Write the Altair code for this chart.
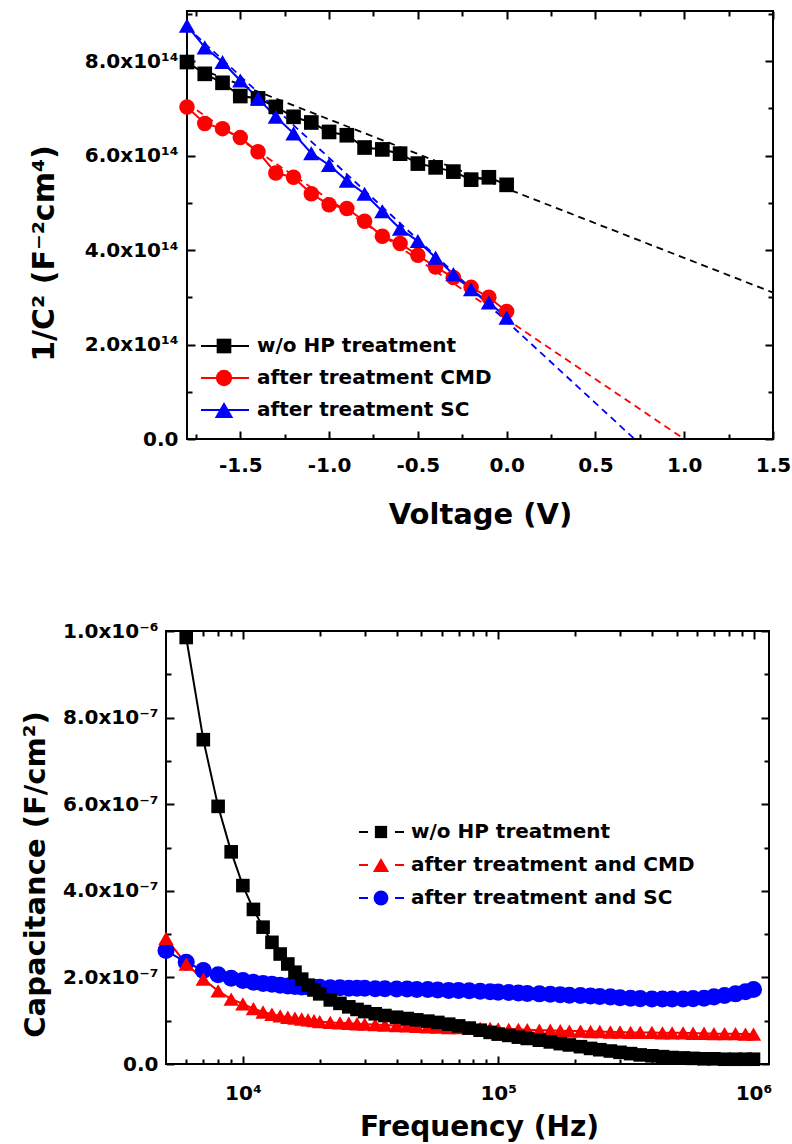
import altair as alt
import pandas as pd

FONT = "DejaVu Sans"

# ---------------- Top panel data (Mott-Schottky) ----------------
voltage = [-1.8, -1.7, -1.6, -1.5, -1.4, -1.3, -1.2, -1.1, -1.0, -0.9,
           -0.8, -0.7, -0.6, -0.5, -0.4, -0.3, -0.2, -0.1, 0.0]
inv_c2_wo = [7.98e14, 7.73e14, 7.54e14, 7.26e14, 7.21e14, 7.03e14, 6.82e14, 6.70e14, 6.50e14, 6.43e14,
             6.17e14, 6.13e14, 6.04e14, 5.83e14, 5.75e14, 5.66e14, 5.49e14, 5.54e14, 5.38e14]
inv_c2_cmd = [7.03e14, 6.68e14, 6.57e14, 6.38e14, 6.08e14, 5.63e14, 5.54e14, 5.19e14, 4.96e14, 4.88e14,
              4.61e14, 4.29e14, 4.14e14, 3.89e14, 3.64e14, 3.42e14, 3.21e14, 3.00e14, 2.70e14]
inv_c2_sc = [8.75e14, 8.29e14, 7.98e14, 7.59e14, 7.21e14, 6.82e14, 6.47e14, 6.05e14, 5.80e14, 5.47e14,
             5.19e14, 4.82e14, 4.45e14, 4.19e14, 3.84e14, 3.49e14, 3.17e14, 2.89e14, 2.57e14]
top_names = ["w/o HP treatment", "after treatment CMD", "after treatment SC"]
# linear-fit extrapolations (dashed)
fit_v_wo, fit_c_wo = [-1.8, 1.5], [7.94e14, 3.10e14]
fit_v_cmd, fit_c_cmd = [-1.8, 1.0], [7.10e14, 0.0]
fit_v_sc, fit_c_sc = [-1.8, 0.72], [8.72e14, 0.0]

top_x_major = [-1.5, -1.0, -0.5, 0.0, 0.5, 1.0, 1.5]
top_x_minor = [-1.75, -1.25, -0.75, -0.25, 0.25, 0.75, 1.25]
top_y_major = [0.0, 2e14, 4e14, 6e14, 8e14]
top_y_minor = [1e14, 3e14, 5e14, 7e14, 9e14]

# ---------------- Bottom panel data (C-f) ----------------
freq = [5000, 6000, 7000, 8000, 9000, 10000, 11000, 12000, 13000, 14000, 15000, 16000,
        17000, 18000, 19000, 20000, 22000, 24000, 26000, 28000, 30000, 33000, 36000, 40000,
        44000, 48000, 53000, 58000, 64000, 70000, 77000, 85000, 93000, 100000, 110000,
        120000, 130000, 145000, 160000, 175000, 190000, 210000, 230000, 250000, 275000,
        300000, 330000, 360000, 400000, 440000, 480000, 530000, 580000, 640000, 700000,
        770000, 850000, 930000, 1000000]
freq_wo = freq[1:]
cap_wo = [9.85e-7, 7.49e-7, 5.95e-7, 4.90e-7, 4.12e-7, 3.57e-7, 3.16e-7, 2.81e-7, 2.54e-7, 2.31e-7,
          2.12e-7, 1.96e-7, 1.82e-7, 1.71e-7, 1.62e-7, 1.48e-7, 1.40e-7, 1.32e-7, 1.26e-7, 1.21e-7,
          1.16e-7, 1.12e-7, 1.08e-7, 1.05e-7, 1.02e-7, 0.99e-7, 0.96e-7, 0.92e-7, 0.88e-7, 0.83e-7,
          0.78e-7, 0.73e-7, 0.69e-7, 0.66e-7, 0.62e-7, 0.59e-7, 0.55e-7, 0.51e-7, 0.47e-7, 0.44e-7,
          0.40e-7, 0.36e-7, 0.33e-7, 0.30e-7, 0.27e-7, 0.24e-7, 0.21e-7, 0.19e-7, 0.17e-7, 0.15e-7,
          0.14e-7, 0.13e-7, 0.12e-7, 0.12e-7, 0.11e-7, 0.11e-7, 0.11e-7, 0.11e-7]
cap_cmd = [2.90e-7, 2.31e-7, 1.96e-7, 1.69e-7, 1.50e-7, 1.39e-7, 1.28e-7, 1.20e-7, 1.15e-7, 1.11e-7,
           1.08e-7, 1.06e-7, 1.04e-7, 1.02e-7, 1.00e-7, 0.98e-7, 0.96e-7, 0.95e-7, 0.94e-7, 0.93e-7,
           0.92e-7, 0.91e-7, 0.90e-7, 0.89e-7, 0.88e-7, 0.87e-7, 0.86e-7, 0.85e-7, 0.84e-7, 0.84e-7,
           0.83e-7, 0.82e-7, 0.82e-7, 0.81e-7, 0.80e-7, 0.80e-7, 0.79e-7, 0.78e-7, 0.78e-7, 0.77e-7,
           0.76e-7, 0.76e-7, 0.75e-7, 0.75e-7, 0.74e-7, 0.74e-7, 0.73e-7, 0.73e-7, 0.73e-7, 0.72e-7,
           0.72e-7, 0.72e-7, 0.71e-7, 0.71e-7, 0.70e-7, 0.70e-7, 0.70e-7, 0.69e-7, 0.69e-7]
cap_sc = [2.62e-7, 2.35e-7, 2.16e-7, 2.06e-7, 1.98e-7, 1.93e-7, 1.89e-7, 1.86e-7, 1.84e-7, 1.82e-7,
          1.80e-7, 1.79e-7, 1.78e-7, 1.78e-7, 1.77e-7, 1.77e-7, 1.76e-7, 1.76e-7, 1.75e-7, 1.75e-7,
          1.75e-7, 1.74e-7, 1.74e-7, 1.73e-7, 1.73e-7, 1.72e-7, 1.72e-7, 1.71e-7, 1.70e-7, 1.70e-7,
          1.69e-7, 1.68e-7, 1.67e-7, 1.66e-7, 1.65e-7, 1.64e-7, 1.63e-7, 1.62e-7, 1.61e-7, 1.60e-7,
          1.59e-7, 1.58e-7, 1.57e-7, 1.56e-7, 1.55e-7, 1.53e-7, 1.52e-7, 1.51e-7, 1.50e-7, 1.50e-7,
          1.50e-7, 1.50e-7, 1.51e-7, 1.52e-7, 1.55e-7, 1.58e-7, 1.62e-7, 1.67e-7, 1.72e-7]
bot_names = ["w/o HP treatment", "after treatment and CMD", "after treatment and SC"]

bot_x_major = [1e4, 1e5, 1e6]
bot_x_minor = [6000, 7000, 8000, 9000, 20000, 30000, 40000, 50000, 60000, 70000, 80000, 90000,
               200000, 300000, 400000, 500000, 600000, 700000, 800000, 900000]
bot_y_major = [0.0, 2e-7, 4e-7, 6e-7, 8e-7, 1e-6]
bot_y_minor = [1e-7, 3e-7, 5e-7, 7e-7, 9e-7]

COLORS = ["#000000", "#ff0000", "#0000ff"]

# ---------------- tables ----------------
df_top = pd.concat([
    pd.DataFrame({"V": voltage, "C": inv_c2_wo, "series": top_names[0]}),
    pd.DataFrame({"V": voltage, "C": inv_c2_cmd, "series": top_names[1]}),
    pd.DataFrame({"V": voltage, "C": inv_c2_sc, "series": top_names[2]}),
], ignore_index=True)
df_fit = pd.concat([
    pd.DataFrame({"V": fit_v_wo, "C": fit_c_wo, "series": top_names[0]}),
    pd.DataFrame({"V": fit_v_cmd, "C": fit_c_cmd, "series": top_names[1]}),
    pd.DataFrame({"V": fit_v_sc, "C": fit_c_sc, "series": top_names[2]}),
], ignore_index=True)
# draw order: blue, red, black (black on top)
df_bot = pd.concat([
    pd.DataFrame({"f": freq, "Cap": cap_sc, "sample": bot_names[2]}),
    pd.DataFrame({"f": freq, "Cap": cap_cmd, "sample": bot_names[1]}),
    pd.DataFrame({"f": freq_wo, "Cap": cap_wo, "sample": bot_names[0]}),
], ignore_index=True)

# ---------------- axis helpers ----------------
label_style = dict(labelFont=FONT, labelFontSize=20, labelFontWeight="bold", labelColor="black",
                   labelFlush=False, labelOverlap=False, ticks=False, tickSize=0, domain=False,
                   grid=False)
title_style = dict(titleFont=FONT, titleFontWeight="bold", titleColor="black")


def tick_axis(orient, values, size, shift=0):
    # inward-pointing ticks: axis line moved inside the frame by the tick length
    return alt.Axis(orient=orient, values=values, labels=False, title=None, domain=False,
                    grid=False, ticks=True, tickSize=size, tickWidth=2, tickColor="black",
                    offset=shift - size)


def layer_enc(xf, yf, xs, ys, ax, ay):
    return dict(x=alt.X(xf, scale=xs, axis=ax), y=alt.Y(yf, scale=ys, axis=ay))


# ---------------- top chart ----------------
xs_t = alt.Scale(domain=[-1.8, 1.5], nice=False, zero=False)
ys_t = alt.Scale(domain=[0, 9.06e14], nice=False, zero=False)
color_t = alt.Color("series:N", scale=alt.Scale(domain=top_names, range=COLORS), legend=None)
t_shapes = ["square", "circle", "triangle-up"]
t_sizes = [215, 265, 340]
shape_t = alt.Shape("series:N", scale=alt.Scale(domain=top_names, range=t_shapes), legend=None)
size_t = alt.Size("series:N", scale=alt.Scale(domain=top_names, range=t_sizes), legend=None)

ax_tx = alt.Axis(orient="bottom", values=top_x_major,
                 labelExpr="(datum.value < 0 ? '-' : '') + format(abs(datum.value), '.1f')",
                 labelPadding=32, labelBaseline="alphabetic", title="Voltage (V)", titleFontSize=29,
                 titleY=84, titleBaseline="alphabetic", **label_style, **title_style)
ax_ty = alt.Axis(orient="left", values=top_y_major,
                 labelExpr="datum.value == 0 ? '0.0' : format(datum.value / 1e14, '.1f') + 'x10¹⁴'",
                 labelPadding=9, title="1/C² (F⁻²cm⁴)", titleFontSize=30, titleAngle=270,
                 titleBaseline="alphabetic", titleAlign="center", titleX=-134, titleY=242,
                 **label_style, **title_style)

t_fit = alt.Chart(df_fit).mark_line(strokeDash=[7, 5], strokeWidth=1.8, clip=True).encode(
    **layer_enc("V:Q", "C:Q", xs_t, ys_t, ax_tx, ax_ty), color=color_t)
t_line = alt.Chart(df_top).mark_line(strokeWidth=2).encode(
    **layer_enc("V:Q", "C:Q", xs_t, ys_t, tick_axis("bottom", top_x_major, 8), tick_axis("left", top_y_major, 8)),
    color=color_t)
t_pts = alt.Chart(df_top).mark_point(filled=True, opacity=1).encode(
    **layer_enc("V:Q", "C:Q", xs_t, ys_t, tick_axis("bottom", top_x_minor, 5), tick_axis("left", top_y_minor, 5)),
    color=color_t, shape=shape_t, size=size_t)
t_g1 = alt.Chart(df_top).mark_point(opacity=0).encode(
    **layer_enc("V:Q", "C:Q", xs_t, ys_t, tick_axis("top", top_x_major, 8), tick_axis("right", top_y_major, 8)))
t_g2 = alt.Chart(df_top).mark_point(opacity=0).encode(
    **layer_enc("V:Q", "C:Q", xs_t, ys_t, tick_axis("top", top_x_minor, 5), tick_axis("right", top_y_minor, 5)))

t_leg = []
t_rows = [335, 367, 399]
for i, name in enumerate(top_names):
    ldf = pd.DataFrame({"label": [name]})
    t_leg.append(alt.Chart(ldf).mark_rule(color=COLORS[i], strokeWidth=2).encode(
        x=alt.value(14), x2=alt.value(62), y=alt.value(t_rows[i])))
    t_leg.append(alt.Chart(ldf).mark_point(filled=True, opacity=1, shape=t_shapes[i], size=t_sizes[i],
                                           color=COLORS[i]).encode(x=alt.value(37), y=alt.value(t_rows[i])))
    t_leg.append(alt.Chart(ldf).mark_text(align="left", baseline="middle", font=FONT, fontSize=20,
                                          fontWeight="bold", color="black").encode(
        x=alt.value(70), y=alt.value(t_rows[i]), text="label:N"))
t_anchor = alt.Chart(pd.DataFrame({"label": ["a"]})).mark_rule(opacity=0).encode(
    x=alt.value(-181), y=alt.value(-10), y2=alt.value(550))

top = alt.layer(t_fit, t_line, t_pts, t_g1, t_g2, *t_leg, t_anchor).resolve_axis(
    x="independent", y="independent").properties(width=586, height=428)

# ---------------- bottom chart ----------------
# plot frame of this panel starts 21 px left of the top panel's frame
SH = 21
BW, BH = 582, 433
xs_b = alt.Scale(type="log", domain=[5000, 1.15e6], range=[-SH, BW], nice=False)
ys_b = alt.Scale(domain=[0, 1e-6], nice=False, zero=False)
b_shapes = ["square", "triangle-up", "circle"]
b_sizes = [185, 290, 230]
color_b = alt.Color("sample:N", scale=alt.Scale(domain=bot_names, range=COLORS), legend=None)
shape_b = alt.Shape("sample:N", scale=alt.Scale(domain=bot_names, range=b_shapes), legend=None)
size_b = alt.Size("sample:N", scale=alt.Scale(domain=bot_names, range=b_sizes), legend=None)

ax_bx = alt.Axis(orient="bottom", values=bot_x_major,
                 labelExpr="datum.value < 5e4 ? '10⁴' : (datum.value < 5e5 ? '10⁵' : '10⁶')",
                 labelPadding=35, labelBaseline="alphabetic", title="Frequency (Hz)", titleFontSize=28,
                 titleX=292, titleY=71, titleBaseline="alphabetic", **label_style, **title_style)
ax_by = alt.Axis(orient="left", values=bot_y_major, offset=SH,
                 labelExpr="datum.value == 0 ? '0.0' : (datum.value > 9.5e-7 ? '1.0x10⁻⁶' : format(datum.value * 1e7, '.1f') + 'x10⁻⁷')",
                 labelPadding=8, title="Capacitance (F/cm²)", titleFontSize=29, titleAngle=270,
                 titleBaseline="alphabetic", titleAlign="center", titleX=-122, titleY=243,
                 **label_style, **title_style)

b_frame = alt.Chart(pd.DataFrame({"label": ["frame"]})).mark_rect(
    fillOpacity=0, stroke="black", strokeWidth=2).encode(
    x=alt.value(-SH), x2=alt.value(BW), y=alt.value(0), y2=alt.value(BH))
b_line = alt.Chart(df_bot).mark_line(strokeWidth=2).encode(
    **layer_enc("f:Q", "Cap:Q", xs_b, ys_b, ax_bx, ax_by), color=color_b, detail="sample:N")
b_pts = alt.Chart(df_bot).mark_point(filled=True, opacity=1).encode(
    **layer_enc("f:Q", "Cap:Q", xs_b, ys_b, tick_axis("bottom", bot_x_major, 8),
                tick_axis("left", bot_y_major, 8, SH)),
    color=color_b, shape=shape_b, size=size_b)
b_g0 = alt.Chart(df_bot).mark_point(opacity=0).encode(
    **layer_enc("f:Q", "Cap:Q", xs_b, ys_b, tick_axis("bottom", bot_x_minor, 5),
                tick_axis("left", bot_y_minor, 5, SH)))
b_g1 = alt.Chart(df_bot).mark_point(opacity=0).encode(
    **layer_enc("f:Q", "Cap:Q", xs_b, ys_b, tick_axis("top", bot_x_major, 8), tick_axis("right", bot_y_major, 8)))
b_g2 = alt.Chart(df_bot).mark_point(opacity=0).encode(
    **layer_enc("f:Q", "Cap:Q", xs_b, ys_b, tick_axis("top", bot_x_minor, 5), tick_axis("right", bot_y_minor, 5)))

b_leg = []
b_rows = [201, 234, 267]
b_leg_sizes = [150, 260, 220]
for i, name in enumerate(bot_names):
    ldf = pd.DataFrame({"label": [name]})
    b_leg.append(alt.Chart(ldf).mark_rule(color=COLORS[i], strokeWidth=2, strokeDash=[9, 27]).encode(
        x=alt.value(172), x2=alt.value(217), y=alt.value(b_rows[i])))
    b_leg.append(alt.Chart(ldf).mark_point(filled=True, opacity=1, shape=b_shapes[i], size=b_leg_sizes[i],
                                           color=COLORS[i]).encode(x=alt.value(194), y=alt.value(b_rows[i])))
    b_leg.append(alt.Chart(ldf).mark_text(align="left", baseline="middle", font=FONT, fontSize=20,
                                          fontWeight="bold", color="black").encode(
        x=alt.value(224), y=alt.value(b_rows[i]), text="label:N"))
b_anchor = alt.Chart(pd.DataFrame({"label": ["a"]})).mark_rule(opacity=0).encode(
    x=alt.value(0), y=alt.value(-68), y2=alt.value(0))

bottom = alt.layer(b_frame, b_line, b_pts, b_g0, b_g1, b_g2, *b_leg, b_anchor).resolve_axis(
    x="independent", y="independent").properties(
    width=BW, height=BH, view=alt.ViewBackground(stroke="transparent"))

chart = alt.ConcatChart(
    concat=[top, bottom], columns=1, spacing=0, bounds="full",
    padding={"left": 5, "top": 0, "right": 0, "bottom": 0}, background="white",
).resolve_scale(
    color="independent", shape="independent", size="independent"
).configure_view(stroke="black", strokeWidth=2)

chart.save("out.html", embed_options={"renderer": "svg", "actions": False})
